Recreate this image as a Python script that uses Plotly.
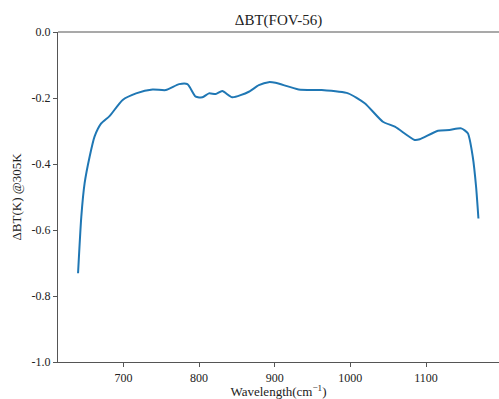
import plotly.graph_objects as go

wavenumber = [640, 644.3, 648.7, 655.3, 661.8, 670.6, 681.6, 699, 716.7, 738.6, 756, 773.7,
              784.6, 795.6, 804.4, 813, 822, 830.7, 843.9, 865.8, 879, 892, 901, 931.6,
              962, 997, 1019, 1043, 1058.8, 1085, 1091.7, 1115.8, 1131, 1146.5, 1155.3,
              1161.8, 1166.2, 1169.3]
delta_bt = [-0.731, -0.56, -0.458, -0.378, -0.317, -0.277, -0.255, -0.206, -0.186, -0.174,
            -0.176, -0.158, -0.158, -0.196, -0.198, -0.186, -0.188, -0.179, -0.198, -0.181,
            -0.161, -0.152, -0.154, -0.174, -0.176, -0.186, -0.216, -0.272, -0.287, -0.327,
            -0.325, -0.299, -0.297, -0.292, -0.307, -0.378, -0.469, -0.565]
x_ticks = [700, 800, 900, 1000, 1100]
y_ticks = [0.0, -0.2, -0.4, -0.6, -0.8, -1.0]
y_ticklabels = ["0.0", "-0.2", "-0.4", "-0.6", "-0.8", "-1.0"]

font = "Liberation Serif"
spine = "#555555"
txt = "#222222"

fig = go.Figure(go.Scatter(x=wavenumber, y=delta_bt, mode="lines",
                           line=dict(color="#1f77b4", width=2, shape="spline", smoothing=0.6)))

fig.update_layout(
    width=499, height=399,
    margin=dict(l=58, r=0, t=32, b=37, autoexpand=False),
    plot_bgcolor="white", paper_bgcolor="white",
    font=dict(family=font, size=12, color=txt),
    title=dict(text="ΔBT(FOV-56)", x=0.5, xanchor="center", xref="paper",
               y=1 - 20 / 399, yanchor="middle", automargin=False,
               font=dict(size=15, family=font, color=txt)),
    showlegend=False,
    shapes=[dict(type="line", xref="paper", yref="paper", x0=0, x1=1.01, y0=1, y1=1,
                 line=dict(color=spine, width=1.2))],
)
fig.update_xaxes(range=[613.5, 1196.5], tickvals=x_ticks, showgrid=False, zeroline=False,
                 automargin=False,
                 showline=True, linecolor=spine, linewidth=1.2, ticks="outside", ticklen=4,
                 tickcolor=spine, tickfont=dict(size=12, family=font, color=txt),
                 title=dict(text="Wavelength(cm<sup>−1</sup>)", standoff=0,
                            font=dict(size=13, family=font, color=txt)))
fig.update_yaxes(range=[-1.0, 0.0], tickvals=y_ticks, ticktext=y_ticklabels, showgrid=False,
                 zeroline=False, automargin=False, showline=True, linecolor=spine, linewidth=1.2,
                 ticks="outside", ticklen=4, tickcolor=spine,
                 tickfont=dict(size=12, family=font, color=txt),
                 title=dict(text="ΔBT(K) @305K", standoff=6,
                            font=dict(size=13, family=font, color=txt)))

fig.write_html("out.html", config={"displayModeBar": False},
               post_script="document.body.style.margin='0';document.body.style.overflow='hidden';")
